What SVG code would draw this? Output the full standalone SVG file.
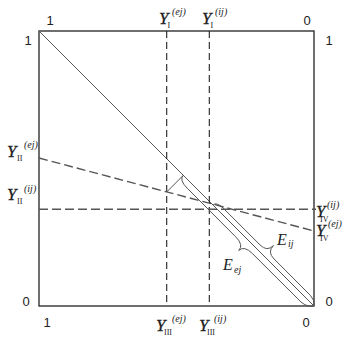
<svg xmlns="http://www.w3.org/2000/svg" width="344" height="337" viewBox="0 0 344 337">
<style>
.frame{fill:none;stroke:#222;stroke-width:1.3}
.diag{fill:none;stroke:#555;stroke-width:1}
.dv{fill:none;stroke:#222;stroke-width:1.1;stroke-dasharray:7 4}
.dh{fill:none;stroke:#555;stroke-width:1.4;stroke-dasharray:9 4}
.br{fill:none;stroke:#555;stroke-width:1}
.num{font-family:"Liberation Sans",Arial,sans-serif;font-size:13px;fill:#222}
.Y{font-family:"Liberation Serif","Times New Roman",serif;font-style:italic;font-size:17px;fill:#222;stroke:#222;stroke-width:0.3}
.sub{font-family:"Liberation Serif","Times New Roman",serif;font-size:8px;fill:#222}
.sup{font-family:"Liberation Serif","Times New Roman",serif;font-style:italic;font-size:10px;fill:#222}
.E{font-family:"Liberation Serif","Times New Roman",serif;font-style:italic;font-size:16px;fill:#222}
.Es{font-family:"Liberation Serif","Times New Roman",serif;font-style:italic;font-size:10px;fill:#222}
</style>
<rect width="344" height="337" fill="#fff"/>
<g id="frame">
<rect class="frame" x="39" y="31" width="275" height="275"/>
</g>
<g id="connectors">
<line class="diag" x1="39" y1="31" x2="314" y2="306"/>
<line class="dv" x1="166.7" y1="31" x2="166.7" y2="306"/>
<line class="dv" x1="209.3" y1="31" x2="209.3" y2="306"/>
<line class="dh" x1="39" y1="209.3" x2="316" y2="209.3"/>
<line class="dh" x1="39" y1="158" x2="314" y2="231"/>
<line class="br" x1="166.7" y1="192" x2="183.3" y2="175.3"/>
<path class="br" d="M183.3,175.3 Q178.8,179.8 187.3,188.3 L235.6,236.7 Q244.1,245.2 238.7,250.5 Q244.1,245.2 252.6,253.7 L301,302 Q307.5,307.5 314,306"/>
<path class="br" d="M213,205 Q216.5,201.5 223.6,208.5 L260,244.9 Q267,252 273.4,245.6 Q267,252 274.1,259 L310.4,295.4 Q315,300 314,306"/>
</g>
<g id="corner-labels">
<text class="num" x="50" y="25" text-anchor="middle">1</text>
<text class="num" x="307" y="25" text-anchor="middle">0</text>
<text class="num" x="28" y="45" text-anchor="middle">1</text>
<text class="num" x="329" y="45" text-anchor="middle">1</text>
<text class="num" x="26" y="306" text-anchor="middle">0</text>
<text class="num" x="329" y="306" text-anchor="middle">0</text>
<text class="num" x="47" y="327" text-anchor="middle">1</text>
<text class="num" x="306" y="327" text-anchor="middle">0</text>
</g>
<g id="Y-I-ej"><text class="Y" x="159" y="24">Y</text><text class="sub" x="167.5" y="28">I</text><text class="sup" x="172" y="15">(ej)</text></g>
<g id="Y-I-ij"><text class="Y" x="202" y="24">Y</text><text class="sub" x="210.5" y="28">I</text><text class="sup" x="215" y="15">(ij)</text></g>
<g id="Y-II-ej"><text class="Y" x="7" y="157">Y</text><text class="sub" x="17" y="161">II</text><text class="sup" x="24" y="148">(ej)</text></g>
<g id="Y-II-ij"><text class="Y" x="7" y="200">Y</text><text class="sub" x="17" y="204">II</text><text class="sup" x="24" y="192">(ij)</text></g>
<g id="Y-IV-ij"><text class="Y" x="316" y="217">Y</text><text class="sub" x="320" y="222">IV</text><text class="sup" x="327" y="208">(ij)</text></g>
<g id="Y-IV-ej"><text class="Y" x="316" y="236">Y</text><text class="sub" x="320" y="241">IV</text><text class="sup" x="328" y="227">(ej)</text></g>
<g id="Y-III-ej"><text class="Y" x="156" y="331">Y</text><text class="sub" x="164" y="335">III</text><text class="sup" x="172" y="322">(ej)</text></g>
<g id="Y-III-ij"><text class="Y" x="199" y="331">Y</text><text class="sub" x="207" y="335">III</text><text class="sup" x="214" y="322">(ij)</text></g>
<g id="E-ij"><text class="E" x="277" y="245">E</text><text class="Es" x="288" y="247">ij</text></g>
<g id="E-ej"><text class="E" x="223" y="270">E</text><text class="Es" x="234" y="273">ej</text></g>
</svg>
